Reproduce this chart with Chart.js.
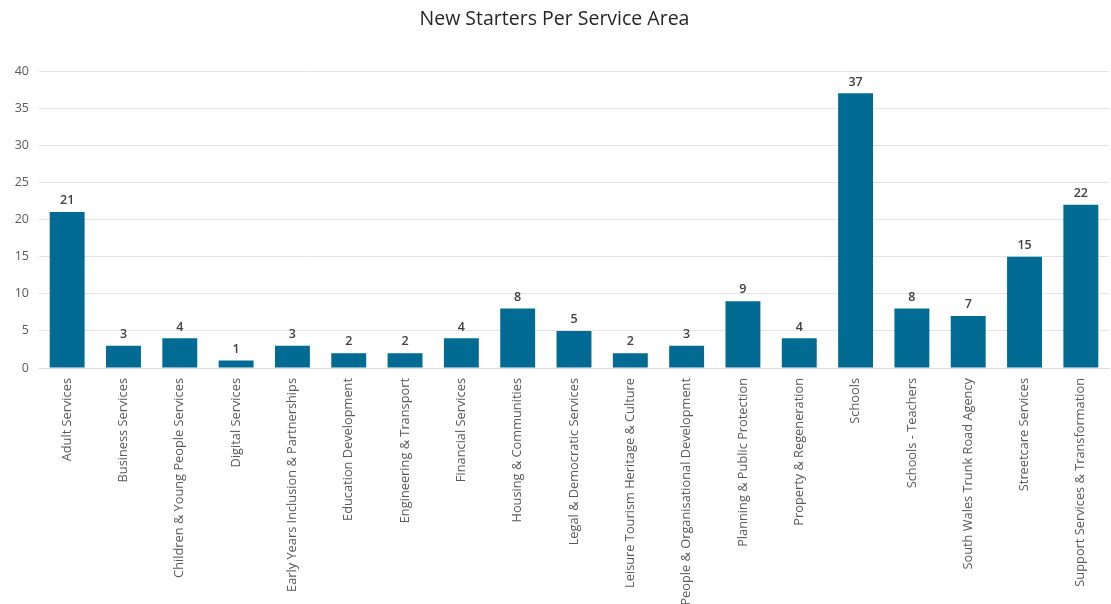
<!DOCTYPE html>
<html>
<head>
<meta charset="utf-8">
<title>New Starters Per Service Area</title>
<script src="https://cdn.jsdelivr.net/npm/chart.js@4/dist/chart.umd.min.js"></script>
<style>
  html, body { margin: 0; padding: 0; background: #fff; }
  #wrap { width: 1111px; height: 604px; }
</style>
</head>
<body>
<div id="wrap"><canvas id="chart" width="1111" height="604"></canvas></div>
<script>
const serviceAreas = [
  'Adult Services',
  'Business Services',
  'Children & Young People Services',
  'Digital Services',
  'Early Years Inclusion & Partnerships',
  'Education Development',
  'Engineering & Transport',
  'Financial Services',
  'Housing & Communities',
  'Legal & Democratic Services',
  'Leisure Tourism Heritage & Culture',
  'People & Organisational Development',
  'Planning & Public Protection',
  'Property & Regeneration',
  'Schools',
  'Schools - Teachers',
  'South Wales Trunk Road Agency',
  'Streetcare Services',
  'Support Services & Transformation'
]

const newStarters = [21, 3, 4, 1, 3, 2, 2, 4, 8, 5, 2, 3, 9, 4, 37, 8, 7, 15, 22]

const yTicks = { min: 0, max: 40, step: 5 }

const FONT = '"Open Sans", "Liberation Sans", sans-serif'

// writes the count above each bar
const barValues = {
  id: 'barValues',
  afterDatasetsDraw(chart) {
    const { ctx } = chart
    const meta = chart.getDatasetMeta(0)
    const values = chart.data.datasets[0].data
    ctx.save()
    ctx.font = '600 12.5px ' + FONT
    ctx.fillStyle = '#404040'
    ctx.textAlign = 'center'
    ctx.textBaseline = 'bottom'
    meta.data.forEach((bar, i) => {
      ctx.fillText(String(values[i]), bar.x, bar.y - 5)
    })
    ctx.restore()
  }
}

new Chart(document.getElementById('chart'), {
  type: 'bar',
  data: {
    labels: serviceAreas,
    datasets: [{
      data: newStarters,
      backgroundColor: '#026b93',
      borderColor: '#026b93',
      borderWidth: 0,
      categoryPercentage: 1,
      barPercentage: 0.62
    }]
  },
  options: {
    responsive: false,
    animation: false,
    layout: { padding: { top: 0, right: 2, bottom: 0, left: 0 } },
    plugins: {
      legend: { display: false },
      tooltip: { enabled: false },
      title: {
        display: true,
        text: 'New Starters Per Service Area',
        color: '#262626',
        font: { family: FONT, size: 19.5, weight: 'normal' },
        padding: { top: 8, bottom: 39.6 }
      }
    },
    scales: {
      x: {
        grid: { display: false, drawTicks: false },
        border: { color: '#d9d9d9', width: 1 },
        ticks: {
          color: '#595959',
          font: { family: FONT, size: 12.8 },
          minRotation: 90,
          maxRotation: 90,
          autoSkip: false,
          padding: 10
        },
        afterFit(scale) { scale.height = 236 }
      },
      y: {
        min: yTicks.min,
        max: yTicks.max,
        grid: { color: '#e3e3e3', lineWidth: 1, drawTicks: false },
        border: { display: false },
        ticks: {
          stepSize: yTicks.step,
          color: '#595959',
          font: { family: FONT, size: 12.5 },
          padding: 10
        },
        afterFit(scale) { scale.width = 39 }
      }
    }
  },
  plugins: [barValues]
})
</script>
</body>
</html>
